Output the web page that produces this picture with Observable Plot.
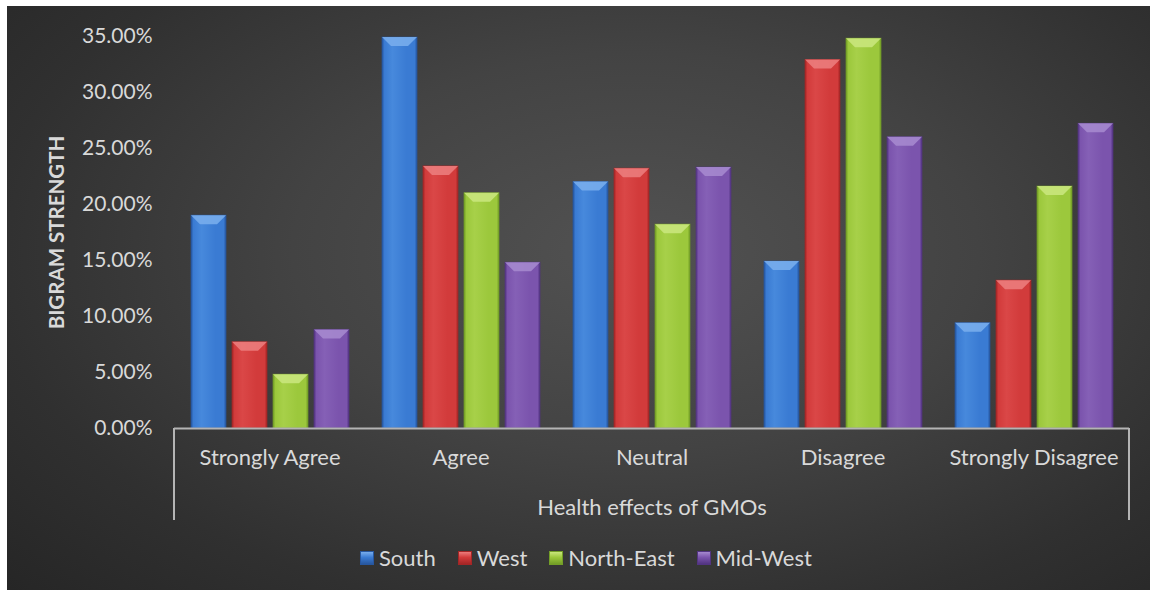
<!DOCTYPE html>
<html>
<head>
<meta charset="utf-8">
<script src="https://cdn.jsdelivr.net/npm/d3@7"></script>
<script src="https://cdn.jsdelivr.net/npm/@observablehq/plot@0.6"></script>
<style>
  html, body { margin: 0; padding: 0; background: #fff; }
  #wrap { position: relative; width: 1150px; height: 591px; overflow: hidden; background: #fff; font-family: Lato, sans-serif; }
  #panel { position: absolute; left: 7px; top: 6px; width: 1143px; height: 584px;
    background: radial-gradient(ellipse 75% 85% at 55% 42%, #525252 0%, #434343 40%, #303030 75%, #262626 100%); }
  #chart { position: absolute; left: 0; top: 0; }
  #legend { position: absolute; left: 360px; top: 544px; display: flex; align-items: center; color: #d9d9d9; font-size: 22px; }
  #legend .item { display: flex; align-items: center; margin-right: 22px; }
  #legend .sw { width: 14px; height: 14px; margin-right: 5px; box-sizing: border-box; }
</style>
</head>
<body>
<div id="wrap">
  <div id="panel"></div>
  <div id="chart"></div>
  <div id="legend"></div>
</div>
<script>
const categories = ["Strongly Agree", "Agree", "Neutral", "Disagree", "Strongly Disagree"];
const regions = ["South", "West", "North-East", "Mid-West"];
const south = [19.0, 34.9, 22.0, 14.9, 9.4];
const west = [7.7, 23.4, 23.2, 32.9, 13.2];
const northEast = [4.8, 21.0, 18.2, 34.8, 21.6];
const midWest = [8.8, 14.8, 23.3, 26.0, 27.2];
const yTicks = [0, 5, 10, 15, 20, 25, 30, 35];

const seriesValues = [south, west, northEast, midWest];
const data = [];
categories.forEach((c, i) => regions.forEach((r, j) => data.push({category: c, region: r, value: seriesValues[j][i]})));

// colour styling: [edge, base, highlight, bevel]
const palette = [
  ["#2757a0", "#3a7bd3", "#4789dc", "#78adec"],
  ["#a42626", "#d23b3b", "#da4747", "#eb7c7c"],
  ["#739e27", "#9cc83c", "#a7d049", "#c9e67c"],
  ["#523482", "#7b54ad", "#8560b6", "#a588ce"]
];

const textColor = "#d9d9d9";

const chart = Plot.plot({
  width: 1150,
  height: 530,
  marginLeft: 172,
  marginRight: 19,
  marginTop: 36,
  marginBottom: 102,
  style: {background: "transparent", color: textColor, fontFamily: "Lato, sans-serif", fontSize: "22px"},
  fx: {domain: categories, padding: 0},
  x: {domain: regions, paddingInner: 0.157, paddingOuter: 0.39, axis: null},
  y: {domain: [0, 35]},
  color: {domain: regions, range: regions.map((r, i) => `url(#bargrad${i})`)},
  marks: [
    Plot.axisY({ticks: yTicks, tickFormat: d => d.toFixed(2) + "%", tickSize: 0, tickPadding: 22, label: null, fill: textColor, fontSize: 21}),
    Plot.axisY({ticks: [], label: "BIGRAM STRENGTH", labelArrow: "none", labelAnchor: "center", labelOffset: 125, fontWeight: "bold", fontSize: 20.5, fill: textColor}),
    Plot.axisFx({anchor: "bottom", tickSize: 0, tickPadding: 21, label: null, fill: textColor}),
    Plot.axisFx({anchor: "bottom", ticks: [], label: "Health effects of GMOs", labelArrow: "none", labelAnchor: "center", labelOffset: 86, fill: textColor}),
    Plot.barY(data, {fx: "category", x: "region", y: "value", fill: "region", ariaLabel: "bar"}),
    Plot.ruleY([0], {stroke: "#b4b4b4", strokeWidth: 2})
  ]
});

document.getElementById("chart").appendChild(chart);

const svg = d3.select(chart);
// strip any label arrow if the library still adds one
svg.selectAll("text").each(function() {
  const t = d3.select(this);
  if (/[↑→]/.test(t.text()) && t.selectAll("tspan").empty()) t.text(t.text().replace(/\s*[↑→]\s*/g, ""));
});

// gradients for the bevelled bars
const defs = svg.insert("defs", ":first-child");
palette.forEach((p, i) => {
  const g = defs.append("linearGradient").attr("id", `bargrad${i}`).attr("x1", 0).attr("x2", 1).attr("y1", 0).attr("y2", 0);
  [[0, p[0]], [0.07, p[1]], [0.3, p[2]], [0.7, p[1]], [0.93, p[1]], [1, p[0]]].forEach(([o, c]) =>
    g.append("stop").attr("offset", o).attr("stop-color", c));
});

// top bevel on each bar
svg.selectAll('g[aria-label="bar"] rect').each(function() {
  const r = d3.select(this);
  const m = (r.attr("fill") || "").match(/bargrad(\d)/);
  const i = m ? +m[1] : 0;
  const x = +r.attr("x"), y = +r.attr("y"), w = +r.attr("width");
  const bev = 9;
  const parent = d3.select(this.parentNode);
  parent.append("polygon")
    .attr("points", [[x, y], [x + w, y], [x + w - bev, y + bev], [x + bev, y + bev]].map(p => p.join(",")).join(" "))
    .attr("fill", palette[i][3]).attr("fill-opacity", 0.9);
  r.attr("stroke", palette[i][0]).attr("stroke-opacity", 0.7).attr("stroke-width", 1);
});

// outer category-axis box lines
const fx = chart.scale("fx"), ys = chart.scale("y");
const left = fx.apply(categories[0]);
const right = fx.apply(categories[categories.length - 1]) + fx.bandwidth;
const y0 = ys.apply(0);
[left, right].forEach(xv => svg.append("line")
  .attr("x1", xv).attr("x2", xv).attr("y1", y0).attr("y2", y0 + 92)
  .attr("stroke", "#b4b4b4").attr("stroke-width", 2));

// legend
const legend = d3.select("#legend");
regions.forEach((r, i) => {
  const it = legend.append("div").attr("class", "item");
  it.append("div").attr("class", "sw")
    .style("background", `linear-gradient(180deg, ${palette[i][3]} 0%, ${palette[i][1]} 45%, ${palette[i][0]} 100%)`)
    .style("border", `1px solid ${palette[i][0]}`);
  it.append("span").text(r);
});
</script>
</body>
</html>
